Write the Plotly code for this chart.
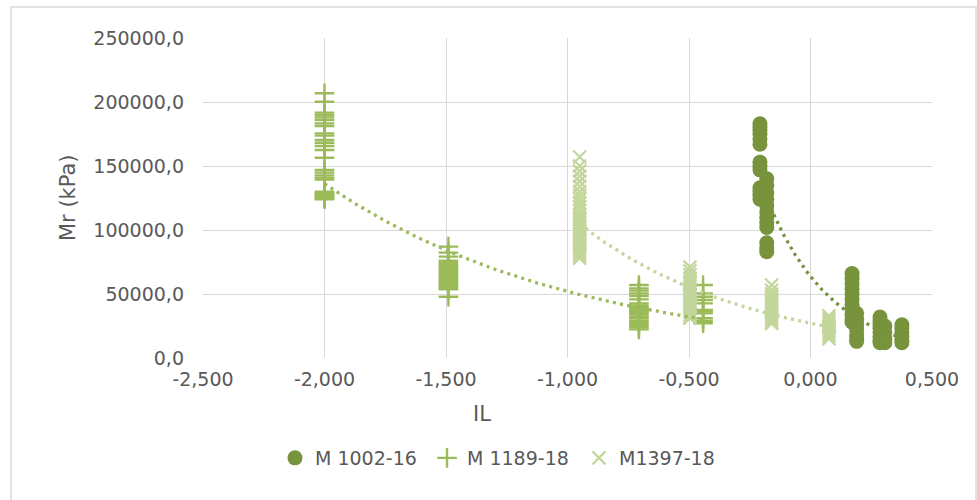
import numpy as np
import plotly.graph_objects as go

# ---------------- data ----------------
m1002_il = [-0.208, -0.18, 0.171, 0.19, 0.286, 0.306, 0.376]
m1002_mr = [
    [183000, 180500, 178000, 175000, 171000, 167000, 153000, 150000, 147000, 133000, 130000, 127000, 124000],
    [140000, 135000, 129000, 124000, 119000, 114000, 110000, 106000, 102000, 90000, 86000, 83000],
    [66000, 62000, 58000, 54000, 50000, 46000, 42000, 38000, 34000, 30000, 28000],
    [35000, 30000, 26000, 22000, 18000, 15000, 13000],
    [32000, 29000, 26000, 23000, 20000, 17000, 14000, 12000],
    [25000, 20000, 15000, 12000],
    [26000, 23000, 20000, 17000, 14000, 12000],
]

m1189_il = [-2.0, -1.49, -0.706, -0.442]
m1189_mr = [
    [206800, 200200, 191700, 189800, 188000, 185900, 183300, 181200, 175500, 173700, 170300, 168200,
     165600, 162500, 156500, 146900, 144800, 142700, 140900, 139500, 129900, 128800, 128100, 127300,
     126600, 125700, 124800, 124000],
    [87000, 82300, 79200, 76000, 74000, 72500, 70900, 69800, 68750, 67500, 66200, 65000, 63500, 62200,
     60900, 59600, 58300, 57000, 55700, 54700, 53600, 47900],
    [57000, 54400, 52600, 50500, 48400, 45800, 42700, 41000, 39600, 38500, 37500, 36500, 35400, 34000,
     32300, 31000, 29100, 27500, 25800, 24000, 22400],
    [57000, 50500, 47900, 45300, 42700, 37500, 36200, 34900, 31000, 29000, 27100],
]

m1397_il = [-0.95, -0.496, -0.16, 0.076]
m1397_mr = [
    [157000, 150000, 146000, 142000, 138000, 134000, 130000, 127000, 124000, 121000, 118000, 115000,
     112000, 110000, 108000, 106000, 104000, 102000, 100000, 98000, 96000, 94000, 92000, 90000, 88000,
     86000, 84000, 82000, 80000, 78000],
    [71000, 68000, 65000, 62000, 60000, 58000, 56000, 54000, 52000, 50000, 48000, 46000, 44000, 42000,
     40000, 38000, 36000, 34000, 32000, 31000],
    [57000, 53000, 50000, 48000, 46000, 44000, 42000, 40000, 38000, 36000, 34000, 32000, 30000, 28000, 27000],
    [33000, 31000, 29000, 27000, 25000, 23000, 21000, 19000, 17000, 15000],
]

series_names = ["M 1002-16", "M 1189-18", "M1397-18"]
x_ticks = [-2.5, -2.0, -1.5, -1.0, -0.5, 0.0, 0.5]
x_ticktext = ["-2,500", "-2,000", "-1,500", "-1,000", "-0,500", "0,000", "0,500"]
y_ticks = [0, 50000, 100000, 150000, 200000, 250000]
y_ticktext = ["0,0", "50000,0", "100000,0", "150000,0", "200000,0", "250000,0"]

# ---------------- styling ----------------
FONT = "DejaVu Sans"
TXT = "#595959"
GRID = "#d9d9d9"
colors = ["#77933C", "#9BBB59", "#C3D69B"]

W, H = 977, 500
PL, PR, PT, PB = 203, 932, 38, 358   # plot area in page pixels
PW, PH = PR - PL, PB - PT


def px_x(p):
    return (p - PL) / PW


def px_y(p):
    return (PB - p) / PH


def flatten(il, mr):
    xs, ys = [], []
    for xv, group in zip(il, mr):
        for yv in group:
            xs.append(xv)
            ys.append(yv)
    return np.array(xs, float), np.array(ys, float)


def exp_trend(x, y):
    # Excel-style exponential trendline: ln(y) = ln(a) + b x
    b, lna = np.polyfit(x, np.log(y), 1)
    tx = np.linspace(x.min(), x.max(), 120)
    return tx, np.exp(lna + b * tx)


fig = go.Figure()

data = [(m1002_il, m1002_mr), (m1189_il, m1189_mr), (m1397_il, m1397_mr)]
markers = [
    dict(symbol="circle", size=15, color=colors[0], line=dict(width=0)),
    dict(symbol="cross-thin", size=14, color=colors[1], line=dict(width=2.4, color=colors[1])),
    dict(symbol="x-thin", size=13, color=colors[2], line=dict(width=2.2, color=colors[2])),
]

flat = []
for (il, mr), name, mk in zip(data, series_names, markers):
    x, y = flatten(il, mr)
    flat.append((x, y))
    fig.add_trace(go.Scatter(x=x, y=y, mode="markers", name=name, marker=mk, cliponaxis=False))

for (x, y), c in zip(flat, colors):
    tx, ty = exp_trend(x, y)
    fig.add_trace(go.Scatter(x=tx, y=ty, mode="lines", showlegend=False, hoverinfo="skip",
                             line=dict(color=c, width=3.3, dash="3px,4.3px")))

fig.update_layout(
    width=W, height=H,
    margin=dict(l=PL, r=W - PR, t=PT, b=H - PB, autoexpand=False),
    paper_bgcolor="white", plot_bgcolor="white",
    font=dict(family=FONT, size=19, color=TXT),
    showlegend=True,
    legend=dict(orientation="h", x=px_x(275), xanchor="left", y=px_y(458), yanchor="middle",
                font=dict(family=FONT, size=19, color=TXT), traceorder="normal",
                itemsizing="trace", bgcolor="rgba(0,0,0,0)",
                entrywidth=107, entrywidthmode="pixels"),
    xaxis=dict(range=[-2.5, 0.5], tickvals=x_ticks, ticktext=x_ticktext, showgrid=True,
               gridcolor=GRID, gridwidth=1, zeroline=False, showline=False,
               ticks="", ticklabelstandoff=8, tickfont=dict(size=19, color=TXT)),
    yaxis=dict(range=[0, 250000], tickvals=y_ticks, ticktext=y_ticktext, showgrid=True,
               gridcolor=GRID, gridwidth=1, zeroline=False, showline=False,
               ticks="", ticklabelstandoff=18, tickfont=dict(size=19, color=TXT)),
    annotations=[
        dict(text="Mr (kPa)", xref="paper", yref="paper", x=px_x(68), y=0.5,
             textangle=-90, showarrow=False, font=dict(size=21, color=TXT, family=FONT),
             xanchor="center", yanchor="middle"),
        dict(text="IL", xref="paper", yref="paper", x=px_x(482), y=px_y(414),
             showarrow=False, font=dict(size=21, color=TXT, family=FONT),
             xanchor="center", yanchor="middle"),
    ],
    shapes=[
        dict(type="rect", xref="paper", yref="paper",
             x0=px_x(11), x1=px_x(976), y0=px_y(502), y1=px_y(7),
             line=dict(color=GRID, width=1.5), fillcolor="rgba(0,0,0,0)", layer="below"),
    ],
)

fig.write_html(
    "out.html",
    config={"displayModeBar": False},
    post_script="document.body.style.margin='0';document.body.style.overflow='hidden';",
)
